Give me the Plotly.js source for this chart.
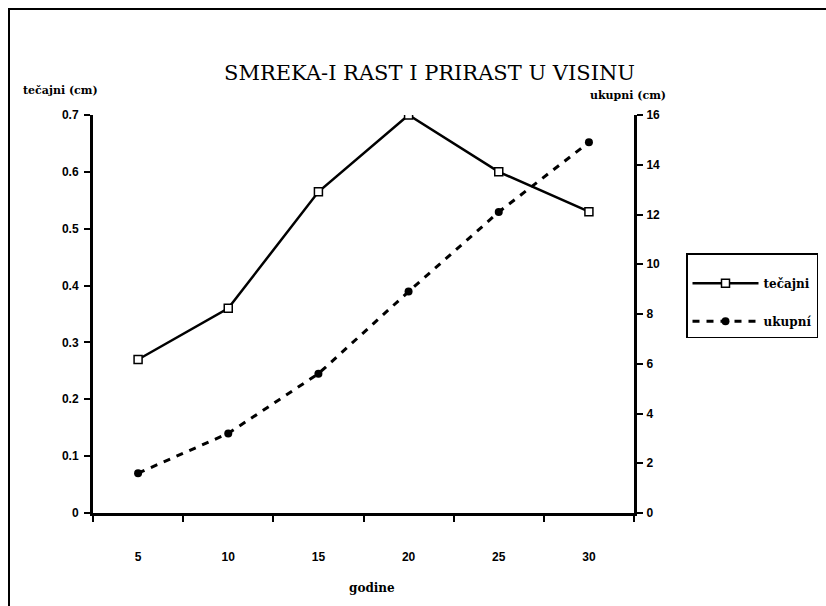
<!DOCTYPE html>
<html>
<head>
<meta charset="utf-8">
<script src="https://cdn.plot.ly/plotly-3.0.1.min.js"></script>
<style>
  html, body { margin: 0; padding: 0; background: #fff; }
  #wrap { position: relative; width: 826px; height: 606px; overflow: hidden; }
  #chart { position: absolute; left: 0; top: 0; width: 826px; height: 606px; }
  #frame { position: absolute; left: 8px; top: 8px; width: 830px; height: 610px;
           border-left: 2px solid #000; border-top: 2px solid #000; pointer-events: none; }
</style>
</head>
<body>
<div id="wrap">
  <div id="chart"></div>
  <div id="frame"></div>
</div>
<script>
// Data
const godine = ["5", "10", "15", "20", "25", "30"];
const tecajni = [0.27, 0.36, 0.565, 0.70, 0.60, 0.53];
const ukupni = [1.6, 3.2, 5.6, 8.9, 12.1, 14.9];
const leftTicks = [0, 0.1, 0.2, 0.3, 0.4, 0.5, 0.6, 0.7];
const rightTicks = [0, 2, 4, 6, 8, 10, 12, 14, 16];

const tickFont = { family: "Liberation Sans Narrow, Liberation Sans, sans-serif", size: 12, color: "#000", weight: "bold" };
const serif = "DejaVu Serif";

const traces = [
  {
    x: godine, y: tecajni, name: "tečajni", type: "scatter", mode: "lines+markers",
    line: { color: "#000", width: 2.5 },
    marker: { symbol: "square", size: 8, color: "#fff", line: { color: "#000", width: 1.5 } },
    xaxis: "x", yaxis: "y", legendgroup: "a"
  },
  {
    x: godine, y: ukupni, name: "ukupní", type: "scatter", mode: "lines+markers",
    line: { color: "#000", width: 3, dash: "7px,7px" },
    marker: { symbol: "circle", size: 8, color: "#000" },
    xaxis: "x", yaxis: "y2", legendgroup: "b"
  }
];

const axisCommon = { showgrid: false, zeroline: false, fixedrange: true, automargin: false };

const layout = {
  width: 826, height: 606,
  margin: { l: 93, r: 192, t: 115, b: 93, autoexpand: false },
  paper_bgcolor: "#fff", plot_bgcolor: "rgba(0,0,0,0)",
  font: { family: serif },
  showlegend: true,
  hovermode: false,
  title: {
    text: "SMREKA-I RAST I PRIRAST U VISINU",
    font: { family: serif, size: 21, color: "#000" },
    x: 0.52, xref: "container", xanchor: "center",
    y: 1 - 73 / 606, yref: "container", yanchor: "middle"
  },
  xaxis: Object.assign({}, axisCommon, {
    type: "category", categoryarray: godine, range: [-0.5, 5.5],
    tickson: "boundaries", ticks: "outside", ticklen: 6, tickwidth: 2, tickcolor: "#000",
    showline: true, linewidth: 3, linecolor: "#000",
    tickfont: tickFont, ticklabelstandoff: 31
  }),
  xaxis2: Object.assign({}, axisCommon, {
    overlaying: "x", anchor: "y", side: "bottom", type: "linear", range: [-0.5, 5.5],
    tick0: -0.5, dtick: 1, ticks: "inside", ticklen: 6, tickwidth: 2, tickcolor: "#000",
    showticklabels: false, showline: false
  }),
  yaxis: Object.assign({}, axisCommon, {
    range: [0, 0.7], tickvals: leftTicks, ticktext: leftTicks.map(String),
    ticks: "outside", ticklen: 6, tickwidth: 2, tickcolor: "#000",
    showline: true, linewidth: 3, linecolor: "#000",
    tickfont: tickFont, ticklabelstandoff: 3
  }),
  yaxis2: Object.assign({}, axisCommon, {
    overlaying: "y", side: "right", anchor: "x",
    range: [0, 16], tickvals: rightTicks, ticktext: rightTicks.map(String),
    ticks: "outside", ticklen: 6, tickwidth: 2, tickcolor: "#000",
    showline: true, linewidth: 3, linecolor: "#000",
    tickfont: tickFont, ticklabelstandoff: 1
  }),
  yaxis3: Object.assign({}, axisCommon, {
    overlaying: "y", side: "left", anchor: "x",
    range: [0, 0.7], tickvals: leftTicks,
    ticks: "inside", ticklen: 6, tickwidth: 2, tickcolor: "#000",
    showticklabels: false, showline: false
  }),
  yaxis4: Object.assign({}, axisCommon, {
    overlaying: "y", side: "right", anchor: "x",
    range: [0, 16], tickvals: rightTicks,
    ticks: "inside", ticklen: 6, tickwidth: 2, tickcolor: "#000",
    showticklabels: false, showline: false
  }),
  legend: {
    x: (686 - 93) / 541, xanchor: "left",
    y: (513 - 253) / 398, yanchor: "top",
    bordercolor: "#000", borderwidth: 1.5, bgcolor: "#fff",
    font: { family: serif, size: 12, color: "#000", weight: "bold" },
    title: { text: " ", font: { family: serif, size: 11 } },
    tracegroupgap: 19, itemwidth: 66
  },
  annotations: [
    { text: "tečajni (cm)", xref: "paper", yref: "paper",
      x: (60 - 93) / 541, y: (513 - 90) / 398, xanchor: "center", yanchor: "middle",
      showarrow: false, font: { family: serif, size: 11, color: "#000", weight: "bold" } },
    { text: "ukupni (cm)", xref: "paper", yref: "paper",
      x: (628 - 93) / 541, y: (513 - 95) / 398, xanchor: "center", yanchor: "middle",
      showarrow: false, font: { family: serif, size: 11, color: "#000", weight: "bold" } },
    { text: "godine", xref: "paper", yref: "paper",
      x: (372 - 93) / 541, y: (513 - 588) / 398, xanchor: "center", yanchor: "middle",
      showarrow: false, font: { family: serif, size: 12, color: "#000", weight: "bold" } }
  ]
};

Plotly.newPlot("chart", traces, layout, { displayModeBar: false, staticPlot: true });
</script>
</body>
</html>
